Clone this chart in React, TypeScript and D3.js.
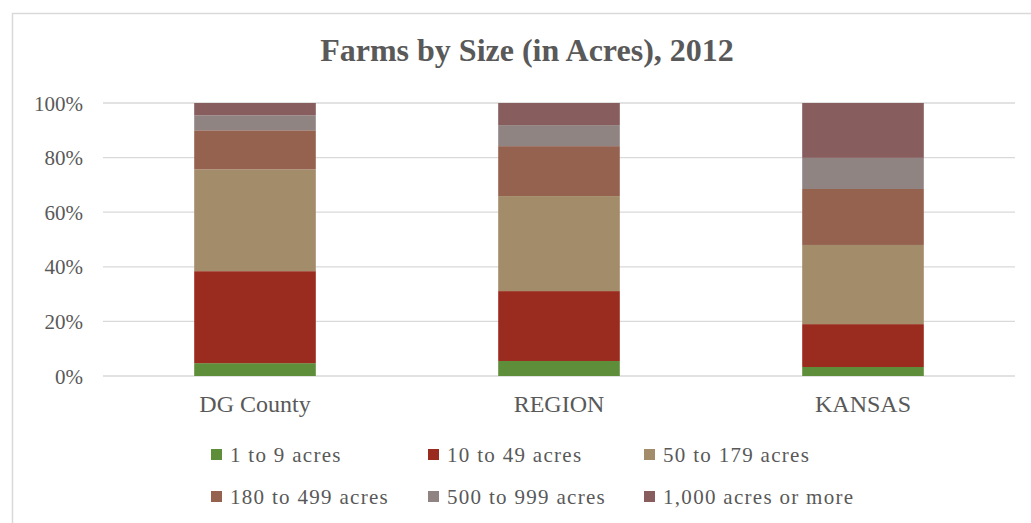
import React from "react";
import * as d3 from "d3";

const categories = ["DG County", "REGION", "KANSAS"];
const seriesNames = [
  "1 to 9 acres",
  "10 to 49 acres",
  "50 to 179 acres",
  "180 to 499 acres",
  "500 to 999 acres",
  "1,000 acres or more",
];
const acres1to9 = [4.7, 5.5, 3.3];
const acres10to49 = [33.7, 25.6, 15.7];
const acres50to179 = [37.3, 34.8, 29.0];
const acres180to499 = [14.3, 18.3, 20.5];
const acres500to999 = [5.5, 7.7, 11.4];
const acres1000plus = [4.5, 8.1, 20.1];
const yTicks = [0, 0.2, 0.4, 0.6, 0.8, 1.0];
const colors = ["#5f8e3b", "#9a2c1f", "#a38c69", "#956250", "#908483", "#875d5d"];

const seriesValues = [acres1to9, acres10to49, acres50to179, acres180to499, acres500to999, acres1000plus];

export default function App() {
  const W = 1031;
  const H = 523;
  const x = d3.scaleBand<string>().domain(categories).range([103, 1015]).paddingInner(0.6).paddingOuter(0.3);
  const y = d3.scaleLinear().domain([0, 1]).range([376, 103]);

  const rows = categories.map((c, i) => {
    const r: any = { cat: c };
    seriesNames.forEach((s, j) => (r[s] = seriesValues[j][i]));
    return r;
  });
  const stacked = d3.stack<any>().keys(seriesNames).offset(d3.stackOffsetExpand)(rows);
  const fmt = d3.format(".0%");
  const font = "Liberation Serif, Tinos, DejaVu Serif, serif";

  const legendCols = [211, 428, 644];
  const legendRows = [449, 491];

  return (
    <svg width={W} height={H} style={{ position: "absolute", left: 0, top: 0, background: "#fff", fontFamily: font }}>
      <rect x={12.5} y={13.5} width={W + 20} height={H + 20} fill="#fff" stroke="#d9d9d9" strokeWidth={1.5} />
      <text x={527} y={61} textAnchor="middle" fontSize={32} fontWeight="bold" fill="#595959">
        Farms by Size (in Acres), 2012
      </text>
      {yTicks.map((t) => (
        <g key={t}>
          <line x1={103} x2={1015} y1={y(t)} y2={y(t)} stroke="#d9d9d9" strokeWidth={1.3} />
          <text x={83} y={y(t) + 7.5} textAnchor="end" fontSize={21} fill="#595959">
            {fmt(t)}
          </text>
        </g>
      ))}
      {stacked.map((layer, j) => (
        <g key={layer.key} fill={colors[j]}>
          {layer.map((d, i) => (
            <rect
              key={i}
              x={x(categories[i])}
              width={x.bandwidth()}
              y={y(d[1])}
              height={y(d[0]) - y(d[1])}
            />
          ))}
        </g>
      ))}
      {categories.map((c) => (
        <text
          key={c}
          x={(x(c) as number) + x.bandwidth() / 2}
          y={412}
          textAnchor="middle"
          fontSize={24}
          fill="#595959"
        >
          {c}
        </text>
      ))}
      {seriesNames.map((s, j) => {
        const lx = legendCols[j % 3];
        const ly = legendRows[Math.floor(j / 3)];
        return (
          <g key={s}>
            <rect x={lx} y={ly} width={11} height={11} fill={colors[j]} />
            <text x={lx + 19} y={ly + 13} fontSize={21} letterSpacing={1.3} fill="#595959">
              {s}
            </text>
          </g>
        );
      })}
    </svg>
  );
}
